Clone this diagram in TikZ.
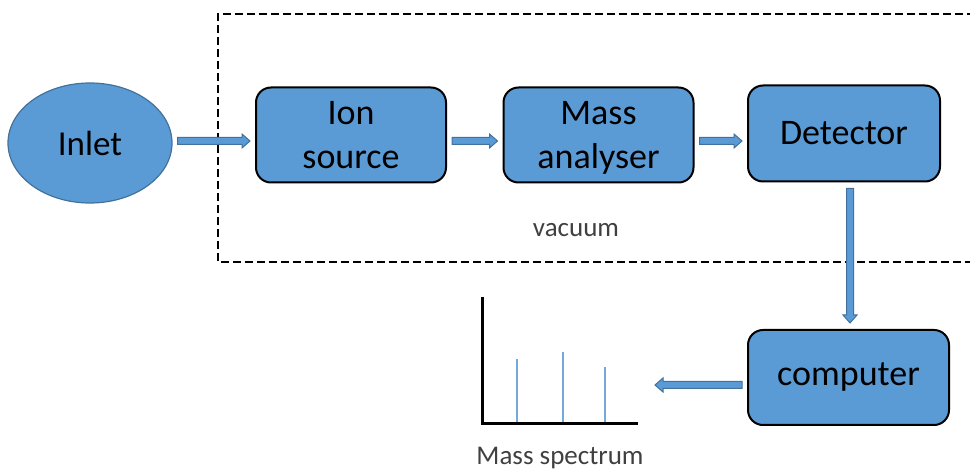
\documentclass[tikz,border=0pt]{standalone}
\usepackage{fontspec}
\setmainfont{Carlito}
\usetikzlibrary{calc,shapes.geometric}
\definecolor{boxblue}{HTML}{5B9BD5}
\definecolor{edgeblue}{HTML}{41719C}
\definecolor{txtgray}{HTML}{404040}
\begin{document}
\begin{tikzpicture}[x=1pt,y=-1pt,
  stage/.style={draw=black, line width=2pt, fill=boxblue, rounded corners=15pt,
    minimum width=190pt, minimum height=95pt, inner sep=0pt, align=center,
    font=\fontsize{36}{44}\selectfont, text=black},
  barrow/.style={draw=edgeblue, fill=boxblue, line width=1pt,
    to path={
      ($(\tikztostart)!#1!(\tikztotarget)$) coordinate (ba)
      ($(\tikztotarget)!#1!(\tikztostart)$) coordinate (bb)
      ($(bb)!8pt!(ba)$) coordinate (bm)
      ($(ba)!3.5pt!90:(bb)$) -- ($(bm)!3.5pt!-90:(ba)$) -- ($(bm)!7pt!-90:(ba)$) -- (bb)
      -- ($(bm)!7pt!90:(ba)$) -- ($(bm)!3.5pt!90:(ba)$) -- ($(ba)!3.5pt!-90:(bb)$) -- cycle}},
  barrow/.default=5pt,
  note/.style={font=\fontsize{27}{32}\selectfont, text=txtgray, inner sep=0pt},
  axisline/.style={draw=black, line width=3pt},
  peak/.style={draw=boxblue!85!white, line width=2.2pt}]
\useasboundingbox (0,0) rectangle (970,470);
% vacuum region
\draw[black, line width=2pt, dash pattern=on 8pt off 4pt] (975,14) -- (218,14) -- (218,262) -- (975,262);
\node[note] (vac) at (576,230) {vacuum};
% nodes
\node[ellipse, draw=edgeblue, line width=1.2pt, fill=boxblue, minimum width=164pt,
  minimum height=120pt, inner sep=0pt, font=\fontsize{35}{42}\selectfont] (inlet) at (90,143) {Inlet};
\node[stage] (ion) at (351,135) {Ion\\source};
\node[stage, text depth=0pt] (mass) at (598.5,135) {Mass\\analyser};
\node[stage, minimum width=192pt, minimum height=96pt] (det) at (844,133.5) {Detector};
\node[stage, minimum width=201pt] (comp) at (848.5,377.5) {computer};
% mass spectrum
\coordinate (origin) at (482,423.5);
\coordinate (ytop) at (482,297);
\coordinate (xend) at (638,423.5);
\draw[peak] (517,423) -- (517,359);
\draw[peak] (563,423) -- (563,352);
\draw[peak] (605,423) -- (605,367);
\draw[axisline] (ytop) -- (origin) -- (xend);
\node[note] (spec) at (560,458) {Mass spectrum};
\coordinate (specin) at (650,385);
% connectors
\draw[barrow] ($(inlet.east |- ion.west)+(0,6)$) to ($(ion.west)+(0,6)$);
\draw[barrow] ($(ion.east)+(0,6)$) to ($(mass.west)+(0,6)$);
\draw[barrow] ($(mass.east)+(0,6)$) to ($(det.west |- mass.east)+(0,6)$);
\draw[barrow=6pt] ($(det.south)+(6,0)$) to ($(det.south |- comp.north)+(6,0)$);
\draw[barrow] ($(comp.west)+(0,7.5)$) to (specin);
\end{tikzpicture}
\end{document}
